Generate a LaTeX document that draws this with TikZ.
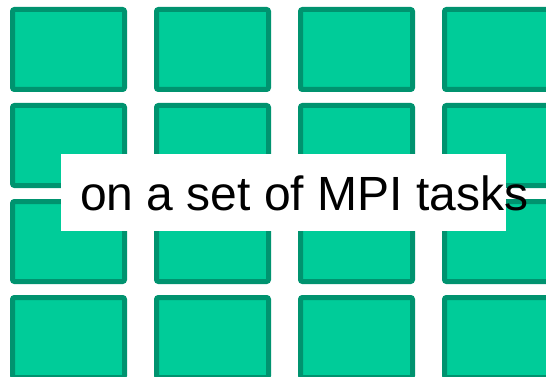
\documentclass[tikz,border=0pt]{standalone}
\usepackage{fontspec}
\setmainfont{Liberation Sans}
\usepackage{xcolor}
\usepackage{tikz}
\usetikzlibrary{positioning}
\definecolor{task-fill}{HTML}{00CC99}
\definecolor{task-edge}{HTML}{00936F}

\begin{document}
\begin{tikzpicture}[
			x=1pt, y=-1pt,
			task/.style={
				draw=task-edge, fill=task-fill, line width=5pt,
				rounded corners=2pt, inner sep=0pt,
				minimum width=112pt, minimum height=80pt
			},
			caption/.style={
				fill=white, inner sep=0pt,
				minimum width=445pt, minimum height=77pt
			}
			]
			\useasboundingbox (0,0) rectangle (546,377);
			\foreach \r in {0,...,3}
				\foreach \c in {0,...,3}
					\node[task] (t\r\c) at (68.5+144*\c, 49.5+96*\r) {};
			\node[caption] (box) at (283.5,192.5) {};
			\node[anchor=base west, inner sep=0pt, font=\fontsize{48}{48}\selectfont] (lbl) at (80,210) {on a set of MPI tasks};
		\end{tikzpicture}
\end{document}
